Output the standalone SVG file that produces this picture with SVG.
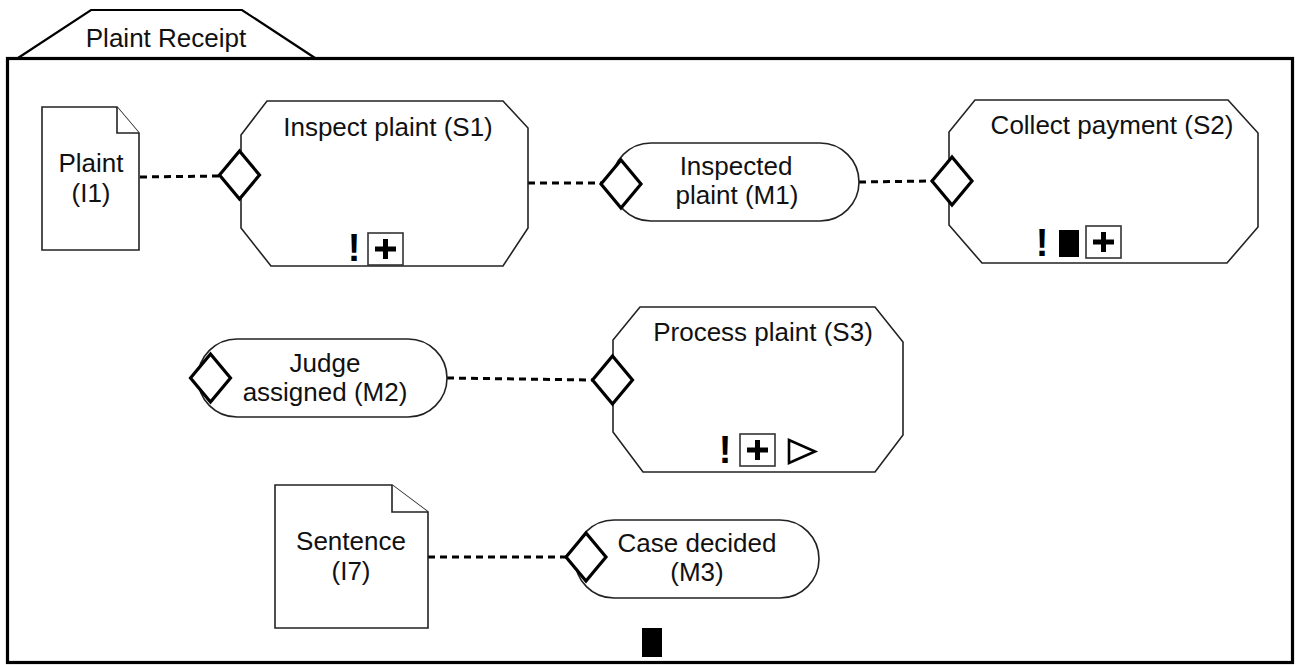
<svg xmlns="http://www.w3.org/2000/svg" width="1296" height="665" viewBox="0 0 1296 665">
<style>
text{font-family:"Liberation Sans",Arial,sans-serif;font-size:26px;fill:#111;text-anchor:middle}
.shape{fill:#fff;stroke:#222;stroke-width:1.6}
.port{fill:#fff;stroke:#000;stroke-width:3.2;stroke-linejoin:miter}
.conn{stroke:#000;stroke-width:3;stroke-dasharray:7 5;fill:none}
.box{fill:#fff;stroke:#333;stroke-width:1.6}
.bang{font-size:38px;font-weight:bold;fill:#000}
.blk{fill:#000}
</style>
<defs>
<g id="plus"><rect class="box" x="0" y="0" width="35" height="32"/><rect class="blk" x="7" y="13.5" width="21" height="5"/><rect class="blk" x="15" y="6" width="5" height="20"/></g>
<polygon id="dia" class="port" points="-20,0 0,-24 20,0 0,24"/>
</defs>
<g id="frame">
<polygon points="18,58 91,10 242,10 315,58" fill="#fff" stroke="#000" stroke-width="2.2"/>
<text x="166" y="47">Plaint Receipt</text>
<rect x="7.5" y="58.5" width="1285" height="604" fill="none" stroke="#000" stroke-width="3.2"/>
</g>
<g id="connectors">
<line class="conn" x1="140" y1="177" x2="220" y2="176"/>
<line class="conn" x1="528" y1="183" x2="602" y2="183"/>
<line class="conn" x1="859" y1="182" x2="932" y2="181"/>
<line class="conn" x1="447" y1="378" x2="593" y2="380"/>
<line class="conn" x1="428" y1="557" x2="566" y2="557"/>
</g>
<g id="I1">
<path class="shape" d="M42,107 H117 L139,133 V250 H42 Z"/>
<path class="shape" fill="none" d="M117,107 V133 H139"/>
<text x="91" y="172">Plaint</text>
<text x="91" y="202">(I1)</text>
</g>
<g id="S1">
<polygon class="shape" points="267,101 503,101 528,128 528,228 503,266 271,266 241,228 241,135"/>
<text x="388" y="136">Inspect plaint (S1)</text>
<text class="bang" x="354" y="261">!</text>
<use href="#plus" x="368" y="233"/>
<use href="#dia" x="239.5" y="175"/>
</g>
<g id="M1">
<rect class="shape" x="612" y="143" width="247" height="78" rx="39" ry="39"/>
<text x="736" y="175">Inspected</text>
<text x="737" y="204">plaint (M1)</text>
<use href="#dia" x="621" y="184"/>
</g>
<g id="S2">
<polygon class="shape" points="975,100 1228,100 1258,133 1258,227 1227,263 982,263 949,225 949,132"/>
<text x="1112" y="134">Collect payment (S2)</text>
<text class="bang" x="1042" y="256">!</text>
<rect class="blk" x="1059" y="230" width="20" height="27"/>
<use href="#plus" x="1086" y="226"/>
<use href="#dia" x="952" y="181"/>
</g>
<g id="M2">
<rect class="shape" x="198" y="339" width="249" height="78" rx="39" ry="39"/>
<text x="325" y="372">Judge</text>
<text x="325" y="401">assigned (M2)</text>
<use href="#dia" x="210.5" y="378"/>
</g>
<g id="S3">
<polygon class="shape" points="640,307 875,307 903,342 903,435 875,472 643,472 613,432 613,340"/>
<text x="763" y="341">Process plaint (S3)</text>
<text class="bang" x="725" y="463">!</text>
<use href="#plus" x="740" y="434"/>
<polygon points="789,440 789,463 815,451.5" fill="none" stroke="#000" stroke-width="2.6"/>
<use href="#dia" x="612.5" y="380"/>
</g>
<g id="I7">
<path class="shape" d="M275,485 H392 L428,512 V628 H275 Z"/>
<path class="shape" fill="none" d="M392,485 V512 H428"/>
<text x="351" y="550">Sentence</text>
<text x="351" y="580">(I7)</text>
</g>
<g id="M3">
<rect class="shape" x="575" y="520" width="244" height="78" rx="39" ry="39"/>
<text x="697" y="552">Case decided</text>
<text x="697" y="581">(M3)</text>
<use href="#dia" x="586" y="557"/>
<rect class="blk" x="642" y="628" width="20" height="29"/>
</g>
</svg>
